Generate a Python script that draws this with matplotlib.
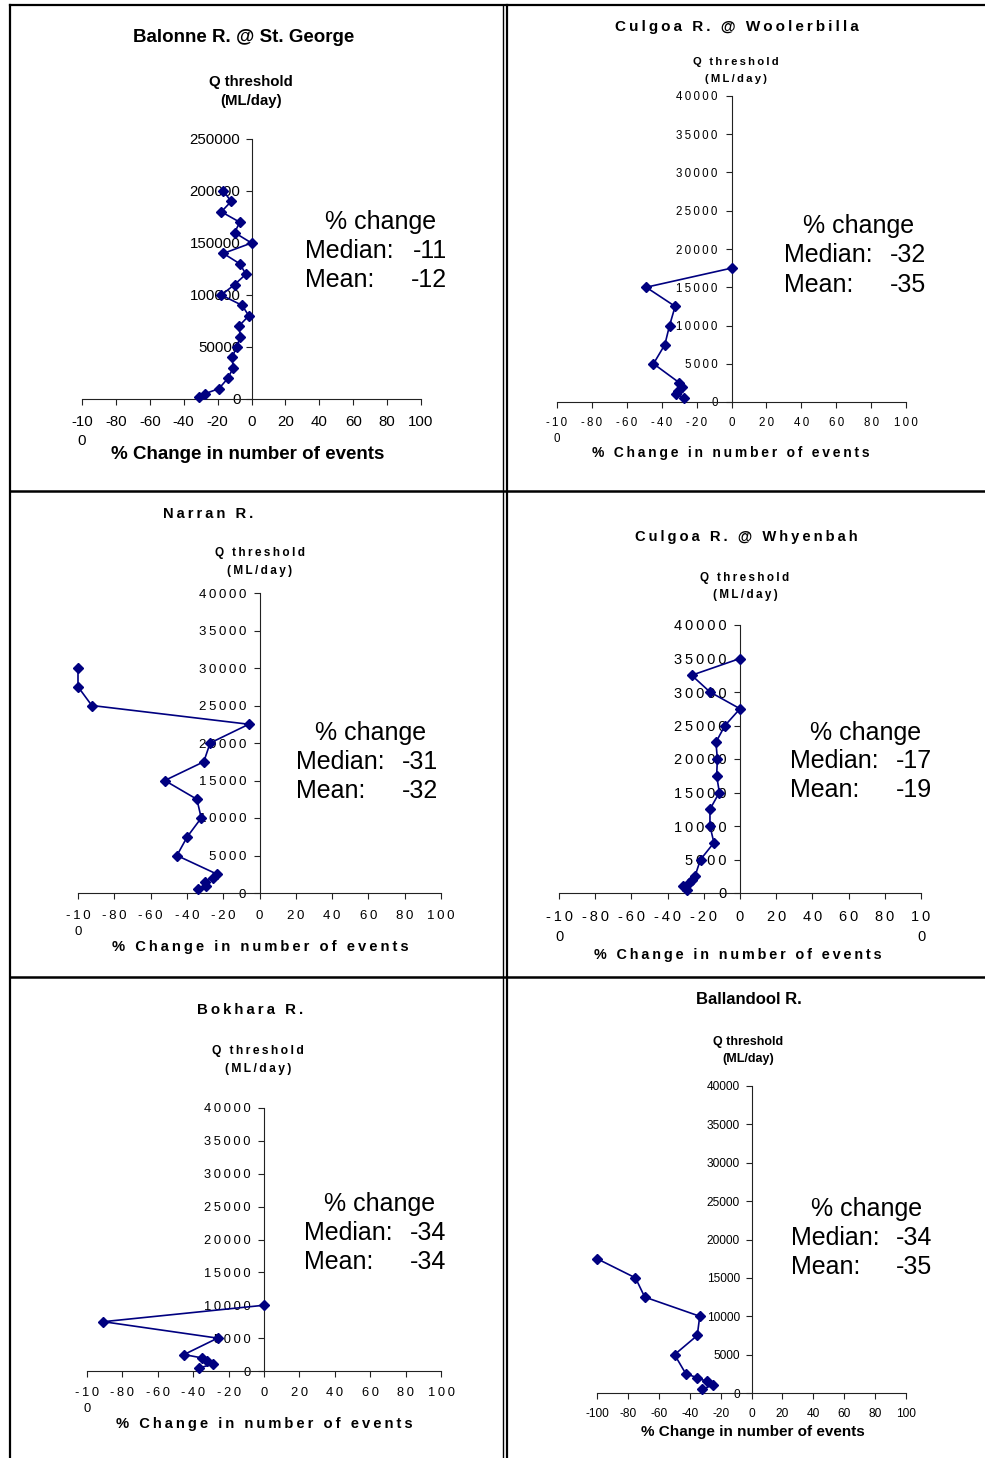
import matplotlib
matplotlib.use('Agg')
import matplotlib.pyplot as plt
from matplotlib.lines import Line2D

# ---------------- data ----------------
titles = ["Balonne R. @ St. George", "Culgoa R. @ Woolerbilla", "Narran R.",
          "Culgoa R. @ Whyenbah", "Bokhara R.", "Ballandool R."]
medians = ["-11", "-32", "-31", "-17", "-34", "-34"]
means = ["-12", "-35", "-32", "-19", "-34", "-35"]

q_balonne = [200000, 190000, 180000, 170000, 160000, 150000, 140000, 130000, 120000,
             110000, 100000, 90000, 80000, 70000, 60000, 50000, 40000, 30000, 20000,
             10000, 5000, 2000]
pct_balonne = [-16.6, -12, -17.8, -6.9, -10, 0, -16.6, -6.9, -3.3, -10, -17.8, -5.5,
               -1.6, -7.5, -6.5, -8.8, -11.4, -10.8, -13.9, -19.2, -27.6, -31]

q_woolerbilla = [17500, 15000, 12500, 10000, 7500, 5000, 2500, 2000, 1500, 1000, 500]
pct_woolerbilla = [0, -48.9, -32.3, -35.5, -38.2, -44.7, -29.8, -28.5, -30.5, -31.7, -27]

q_narran = [30000, 27500, 25000, 22500, 20000, 17500, 15000, 12500, 10000, 7500, 5000,
            2500, 2000, 1500, 1000, 500]
pct_narran = [-100, -100, -92.4, -5.9, -27.2, -30.7, -52.2, -34.5, -32.1, -39.8, -45.5,
              -23.3, -25.7, -30, -29.4, -34]

q_whyenbah = [35000, 32500, 30000, 27500, 25000, 22500, 20000, 17500, 15000, 12500,
              10000, 7500, 5000, 2500, 2000, 1500, 1000, 500]
pct_whyenbah = [0, -26.7, -16.6, 0, -8.3, -13.3, -12.5, -12.9, -11.4, -16.6, -16.6,
                -14.4, -21.8, -24.9, -26.7, -28, -31.3, -29.5]

q_bokhara = [10000, 7500, 5000, 2500, 2000, 1500, 1000, 500]
pct_bokhara = [0, -90.8, -26.2, -45.2, -35.2, -32.3, -28.9, -36.6]

q_ballandool = [17500, 15000, 12500, 10000, 7500, 5000, 2500, 2000, 1500, 1000, 500]
pct_ballandool = [-100, -75.1, -69.1, -33.5, -35.1, -49.8, -42.5, -35.1, -29.1, -25.2, -31.9]

x_ticks = [-100, -80, -60, -40, -20, 0, 20, 40, 60, 80, 100]
xlab_a = ['-10\n0', '-80', '-60', '-40', '-20', '0', '20', '40', '60', '80', '100']
xlab_b = ['-10\n0', '-80', '-60', '-40', '-20', '0', '20', '40', '60', '80', '10\n0']
xlab_c = ['-100', '-80', '-60', '-40', '-20', '0', '20', '40', '60', '80', '100']
y_ticks_big = [0, 50000, 100000, 150000, 200000, 250000]
y_ticks_small = [0, 5000, 10000, 15000, 20000, 25000, 30000, 35000, 40000]

series = [(pct_balonne, q_balonne), (pct_woolerbilla, q_woolerbilla), (pct_narran, q_narran),
          (pct_whyenbah, q_whyenbah), (pct_bokhara, q_bokhara), (pct_ballandool, q_ballandool)]
yticks_per = [y_ticks_big, y_ticks_small, y_ticks_small, y_ticks_small, y_ticks_small, y_ticks_small]
xlabels_per = [xlab_a, xlab_a, xlab_a, xlab_b, xlab_a, xlab_c]

# ---------------- layout ----------------
W, H = 985, 1458
FAM = ['Liberation Sans', 'DejaVu Sans']
NAVY = '#000080'
TS = '\u2009'

def tr(s, on):
    if not on:
        return s
    return '\n'.join(TS.join(line) for line in s.split('\n'))

layout = [
    dict(box=(82, 139, 421, 399), title=(244, 38, 13.5), trk=False, q=(251, 82, 101, 10.8),
         tfs=10.8, xl=(248, 455, 13.5), ann=(381, 222, 305, 447, 251, 280), ms=5.5,
         xpad=7.5, ypad=4),
    dict(box=(557, 96, 906, 402), title=(737, 27, 11), trk=True, q=(736, 62, 79, 8.1),
         tfs=8.3, xl=(731, 453, 10), ann=(859, 226, 784, 926, 255, 285), ms=4.8,
         xpad=6.5, ypad=6),
    dict(box=(78, 593, 441, 893), title=(208, 514, 10.6), trk=True, q=(260, 553, 571, 8.5),
         tfs=9.5, xl=(260, 947, 10.6), ann=(371, 733, 296, 438, 762, 791), ms=5,
         xpad=8, ypad=5.5),
    dict(box=(559, 625, 921, 893), title=(746, 537, 10.6), trk=True, q=(745, 578, 595, 8.4),
         tfs=10.5, xl=(738, 955, 10.4), ann=(866, 733, 790, 932, 761, 790), ms=5,
         xpad=8.5, ypad=5.5),
    dict(box=(87, 1108, 441, 1371), title=(250, 1010, 10.8), trk=True, q=(258, 1051, 1069, 8.7),
         tfs=9.3, xl=(264, 1424, 10.6), ann=(380, 1204, 304, 446, 1233, 1262), ms=5,
         xpad=7.5, ypad=5.5),
    dict(box=(597, 1086, 906, 1393), title=(749, 1000, 12), trk=False, q=(748, 1042, 1059, 9),
         tfs=8.6, xl=(753, 1432, 11), ann=(867, 1209, 791, 932, 1238, 1267), ms=5,
         xpad=6.5, ypad=4.5),
]

fig = plt.figure(figsize=(W / 100, H / 100), dpi=100)
fig.patch.set_facecolor('white')

def ftext(x, y, s, **kw):
    fig.text(x / W, 1 - y / H, s, family=FAM, **kw)

for i, L in enumerate(layout):
    l, t, r, b = L['box']
    ax = fig.add_axes([l / W, 1 - b / H, (r - l) / W, (b - t) / H])
    xs, ys = series[i]
    yt = yticks_per[i]
    ax.plot(xs, ys, color=NAVY, lw=1.2, marker='D', ms=L['ms'], mfc=NAVY, mec=NAVY,
            clip_on=False, zorder=3)
    ax.set_xlim(-100, 100)
    ax.set_ylim(0, yt[-1])
    ax.patch.set_alpha(0)
    for s in ('top', 'right'):
        ax.spines[s].set_visible(False)
    ax.spines['left'].set_position(('data', 0))
    ax.spines['bottom'].set_position(('data', 0))
    for s in ('left', 'bottom'):
        ax.spines[s].set_linewidth(0.8)
        ax.spines[s].set_color('#222222')
    trk = L['trk']
    ax.set_xticks(x_ticks)
    ax.set_xticklabels([tr(s, trk) for s in xlabels_per[i]], family=FAM, fontsize=L['tfs'])
    for lab in ax.get_xticklabels():
        lab.set_linespacing(1.5)
    ax.set_yticks(yt)
    ax.set_yticklabels([tr(str(v), trk) for v in yt], family=FAM, fontsize=L['tfs'])
    ax.tick_params(axis='x', direction='out', length=4, width=0.8, pad=L['xpad'], color='#222222')
    ax.tick_params(axis='y', direction='out', length=4, width=0.8, pad=L['ypad'], color='#222222')

    tx, ty, tfs = L['title']
    ftext(tx, ty, tr(titles[i], trk), fontsize=tfs, fontweight='bold', ha='center', va='center')
    qx, qy1, qy2, qfs = L['q']
    ftext(qx, qy1, tr("Q threshold", trk), fontsize=qfs, fontweight='bold', ha='center', va='center')
    ftext(qx, qy2, tr("(ML/day)", trk), fontsize=qfs, fontweight='bold', ha='center', va='center')
    lx, ly, lfs = L['xl']
    ftext(lx, ly, tr("% Change in number of events", trk), fontsize=lfs, fontweight='bold',
          ha='center', va='center')
    cx, cy, ax0, ax1, my, ny = L['ann']
    ftext(cx, cy, "% change", fontsize=18, ha='center', va='center')
    ftext(ax0, my, "Median:", fontsize=18, ha='left', va='center')
    ftext(ax1, my, medians[i], fontsize=18, ha='right', va='center')
    ftext(ax0, ny, "Mean:", fontsize=18, ha='left', va='center')
    ftext(ax1, ny, means[i], fontsize=18, ha='right', va='center')

# ---------------- cell borders ----------------
def hline(y, x0, x1, lw=1.6):
    fig.add_artist(Line2D([x0 / W, x1 / W], [1 - y / H, 1 - y / H], transform=fig.transFigure,
                          color='black', lw=lw))

def vline(x, y0, y1, lw=1.6):
    fig.add_artist(Line2D([x / W, x / W], [1 - y0 / H, 1 - y1 / H], transform=fig.transFigure,
                          color='black', lw=lw))

vline(10, 5, H)
hline(5, 10, W)
vline(503, 5, H, lw=1.0)
vline(506.5, 5, H, lw=1.6)
hline(491, 10, W, lw=1.8)
hline(977, 10, W, lw=1.8)

fig.savefig('out.png', dpi=100)
